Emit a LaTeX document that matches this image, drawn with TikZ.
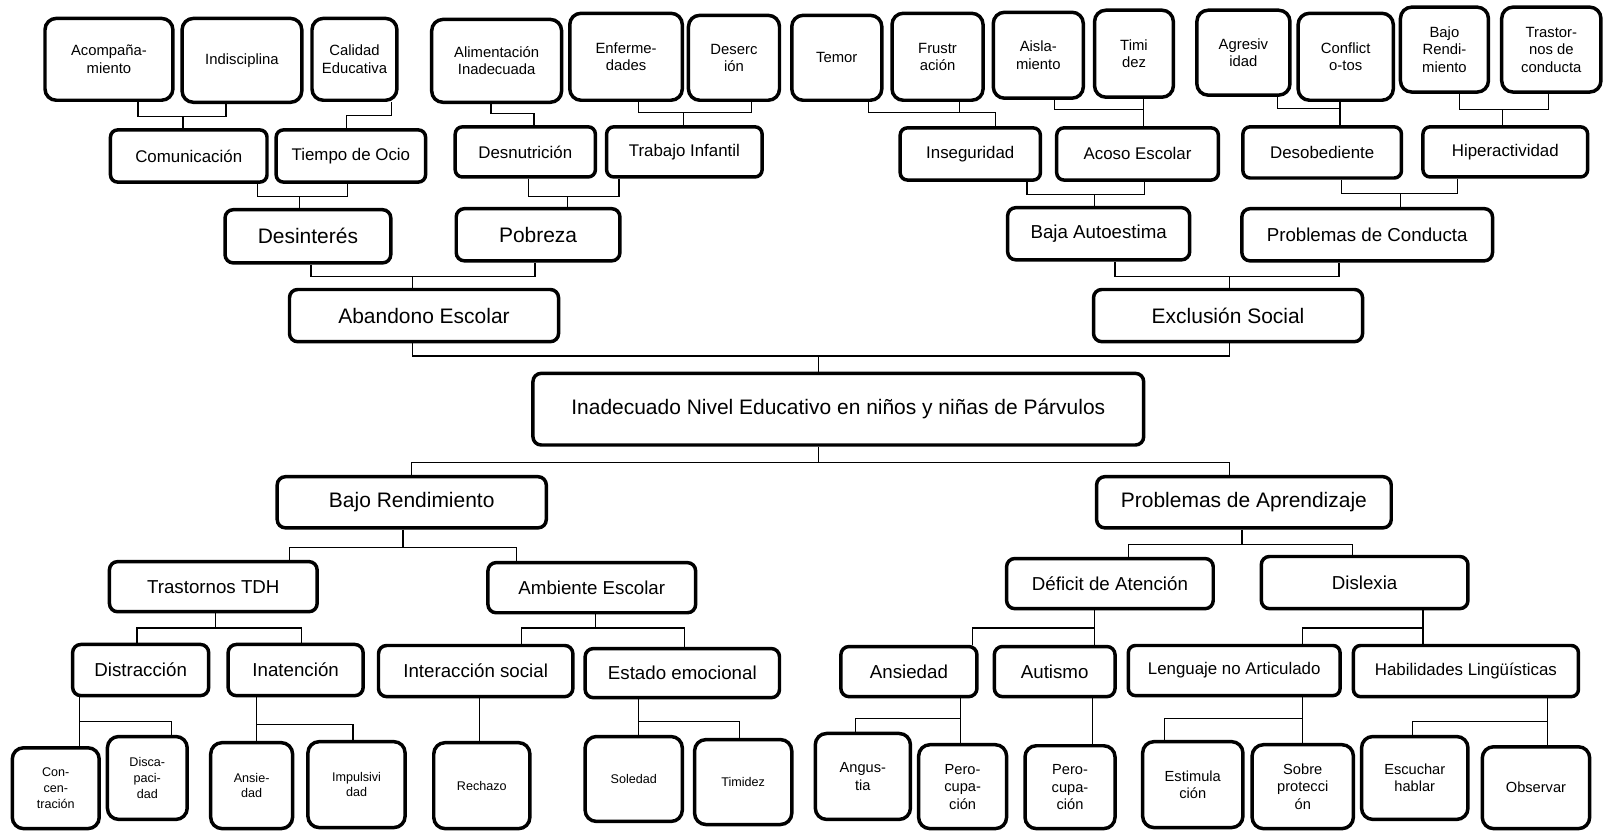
\documentclass[tikz,border=0pt]{standalone}
\usepackage{fontspec}
\setmainfont{Liberation Sans}
\newcommand\bx[7]{\node[#6, minimum width={(#4-#2)*1pt}, minimum height={(#5-#3)*1pt}] (#1) at ({(#2+#4)/2},{(#3+#5)/2}) {#7};}
\newcommand\upfork[7]{% childA xA childB xB ybar parent xp
  \draw[conn] (#1.south -| #2,0) -- (#2,#5) -- (#4,#5) -- (#3.south -| #4,0);
  \draw[conn] (#7,#5) -- (#6.north -| #7,0);}
\newcommand\dnfork[7]{% parent xp ybar childA xA childB xB
  \draw[conn] (#1.south -| #2,0) -- (#2,#3);
  \draw[conn] (#4.north -| #5,0) -- (#5,#3) -- (#7,#3) -- (#6.north -| #7,0);}
\tikzset{
  bx/.style={draw=black, line width=3.4pt, rounded corners=9pt, inner sep=0pt, align=center, fill=white},
  sq/.style={bx, rounded corners=11pt},
  ftop/.style={sq, font=\fontsize{14.5}{17}\selectfont},
  fmid/.style={bx, rounded corners=7pt, font=\fontsize{16.5}{19}\selectfont},
  fbig/.style={bx, rounded corners=8pt, font=\fontsize{20.5}{24}\selectfont},
  fsec/.style={bx, rounded corners=8pt, font=\fontsize{18.3}{22}\selectfont},
  flL/.style={sq, font=\fontsize{12.3}{15.3}\selectfont},
  flR/.style={sq, font=\fontsize{14.3}{17}\selectfont},
  conn/.style={draw=black, line width=1.2pt}
}
\begin{document}
\begin{tikzpicture}[x=1pt, y=-1pt]
\fill[white] (0,0) rectangle (1568,813);
\useasboundingbox (0,0) rectangle (1568,813);
% top row
\bx{t1}{44}{18}{169}{98}{ftop}{Acompaña-\\miento}
\bx{t2}{178}{18}{295}{100}{ftop}{Indisciplina}
\bx{t3}{305}{18}{388}{98}{ftop}{Calidad\\Educativa}
\bx{t4}{422}{19}{549}{100}{ftop}{Alimentación\\Inadecuada}
\bx{t5}{557}{13}{667}{98}{ftop}{Enferme-\\dades}
\bx{t6}{673}{15}{762}{98}{ftop}{Deserc\\ión}
\bx{t7}{774}{15}{862}{98}{ftop}{Temor}
\bx{t8}{872}{13}{961}{98}{ftop}{Frustr\\ación}
\bx{t9}{971}{12}{1059}{96}{ftop}{Aisla-\\miento}
\bx{t10}{1070}{10}{1147}{95}{ftop}{Timi\\dez}
\bx{t11}{1170}{10}{1261}{93}{ftop}{Agresiv\\idad}
\bx{t12}{1269}{13}{1362}{98}{ftop}{Conflict\\o-tos}
\bx{t13}{1369}{7}{1455}{90}{ftop}{Bajo\\Rendi-\\miento}
\bx{t14}{1468}{7}{1565}{90}{ftop}{Trastor-\\nos de\\conducta}
% row 2
\bx{r1}{108}{127}{261}{178}{fmid}{Comunicación}
\bx{r2}{270}{127}{416}{178}{fmid}{Tiempo de Ocio}
\bx{r3}{445}{124}{582}{173}{fmid}{Desnutrición}
\bx{r4}{593}{124}{745}{173}{fmid}{Trabajo Infantil}
\bx{r5}{880}{125}{1017}{176}{fmid}{Inseguridad}
\bx{r6}{1033}{125}{1191}{176}{fmid}{Acoso Escolar}
\bx{r7}{1215}{124}{1370}{174}{fmid}{Desobediente}
\bx{r8}{1391}{124}{1552}{173}{fmid}{Hiperactividad}
% row 3
\bx{q1}{220}{205}{382}{257}{fbig}{Desinterés}
\bx{q2}{446}{204}{606}{255}{fbig}{Pobreza}
\bx{q3}{985}{203}{1163}{254}{fsec}{Baja Autoestima}
\bx{q4}{1214}{204}{1459}{255}{fsec}{Problemas de Conducta}
% row 4
\bx{a1}{283}{283}{546}{334}{fbig}{Abandono Escolar}
\bx{a2}{1069}{283}{1332}{334}{fbig}{Exclusión Social}
% center
\bx{c}{521}{365}{1118}{435}{fbig}{Inadecuado Nivel Educativo en niños y niñas de Párvulos}
% row 5
\bx{b1}{271}{466}{534}{516}{fbig}{Bajo Rendimiento}
\bx{b2}{1072}{466}{1360}{516}{fbig}{Problemas de Aprendizaje}
% row 6
\bx{d1}{107}{549}{310}{598}{fsec}{Trastornos TDH}
\bx{d2}{477}{550}{680}{599}{fsec}{Ambiente Escolar}
\bx{d3}{984}{546}{1186}{595}{fsec}{Déficit de Atención}
\bx{d4}{1233}{544}{1435}{595}{fsec}{Dislexia}
% row 7
\bx{e1}{71}{630}{204}{680}{fsec}{Distracción}
\bx{e2}{223}{630}{355}{680}{fsec}{Inatención}
\bx{e3}{370}{631}{560}{681}{fsec}{Interacción social}
\bx{e4}{572}{634}{762}{682}{fsec}{Estado emocional}
\bx{e5}{822}{632}{955}{681}{fsec}{Ansiedad}
\bx{e6}{972}{632}{1090}{681}{fsec}{Autismo}
\bx{e7}{1103}{631}{1310}{680}{fmid}{Lenguaje no Articulado}
\bx{e8}{1323}{631}{1543}{681}{fmid}{Habilidades Lingüísticas}
% leaves
\bx{f1}{12}{731}{97}{810}{flL}{Con-\\cen-\\tración}
\bx{f2}{105}{720}{183}{801}{flL}{Disca-\\paci-\\dad}
\bx{f3}{206}{726}{286}{810}{flL}{Ansie-\\dad}
\bx{f4}{301}{725}{396}{809}{flL}{Impulsivi\\dad}
\bx{f5}{424}{726}{518}{810}{flL}{Rechazo}
\bx{f6}{572}{720}{667}{803}{flL}{Soledad}
\bx{f7}{679}{723}{774}{806}{flL}{Timidez}
\bx{f8}{797}{717}{890}{801}{flR}{Angus-\\tia}
\bx{f9}{898}{728}{984}{810}{flR}{Pero-\\cupa-\\ción}
\bx{f10}{1002}{729}{1090}{810}{flR}{Pero-\\cupa-\\ción}
\bx{f11}{1117}{725}{1215}{809}{flR}{Estimula\\ción}
\bx{f12}{1224}{728}{1323}{810}{flR}{Sobre\\protecci\\ón}
\bx{f13}{1331}{720}{1435}{801}{flR}{Escuchar\\hablar}
\bx{f14}{1449}{730}{1554}{810}{flR}{Observar}
% connectors, upper half
\upfork{t1}{135}{t2}{221}{114}{r1}{179}
\draw[conn] (t3.south -| 383,0) -- (383,113) -- (339,113) -- (r2.north -| 339,0);
\upfork{r1}{252}{r2}{340}{192}{q1}{293}
\draw[conn] (t4.south -| 480,0) -- (480,111) -- (522,111) -- (r3.north -| 522,0);
\upfork{t5}{624}{t6}{735}{110}{r4}{668}
\upfork{r3}{517}{r4}{605}{192}{q2}{555}
\draw[conn] (t7.south -| 849,0) -- (849,110) -- (973,110) -- (r5.north -| 973,0);
\draw[conn] (t8.south -| 938,0) -- (938,110);
\draw[conn] (t9.south -| 1031,0) -- (1031,107) -- (1118,107);
\draw[conn] (t10.south -| 1118,0) -- (r6.north -| 1118,0);
\upfork{r5}{1004}{r6}{1119}{190}{q3}{1070}
\draw[conn] (t11.south -| 1249,0) -- (1249,106) -- (1310,106);
\draw[conn] (t12.south -| 1310,0) -- (r7.north -| 1310,0);
\upfork{t13}{1427}{t14}{1514}{107}{r8}{1469}
\upfork{r7}{1311}{r8}{1425}{189}{q4}{1369}
\upfork{q1}{304}{q2}{523}{270}{a1}{403}
\upfork{q3}{1090}{q4}{1309}{270}{a2}{1202}
\upfork{a1}{403}{a2}{1202}{348}{c}{800}
% connectors, lower half
\dnfork{c}{800}{452}{b1}{402}{b2}{1202}
\dnfork{b1}{394}{535}{d1}{283}{d2}{505}
\dnfork{d1}{211}{614}{e1}{134}{e2}{295}
\dnfork{d2}{582}{614}{e3}{510}{e4}{669}
\dnfork{e1}{78}{705}{f1}{78}{f2}{168}
\dnfork{e2}{251}{708}{f3}{251}{f4}{345}
\draw[conn] (e3.south -| 469,0) -- (f5.north -| 469,0);
\dnfork{e4}{624}{705}{f6}{624}{f7}{723}
\dnfork{b2}{1214}{532}{d3}{1103}{d4}{1322}
\dnfork{d3}{1070}{614}{e6}{1070}{e5}{951}
\dnfork{d4}{1391}{614}{e8}{1391}{e7}{1273}
\dnfork{e5}{939}{702}{f9}{939}{f8}{836}
\draw[conn] (e6.south -| 1068,0) -- (f10.north -| 1068,0);
\dnfork{e7}{1273}{702}{f12}{1273}{f11}{1138}
\dnfork{e8}{1513}{705}{f14}{1513}{f13}{1381}
\end{tikzpicture}
\end{document}
